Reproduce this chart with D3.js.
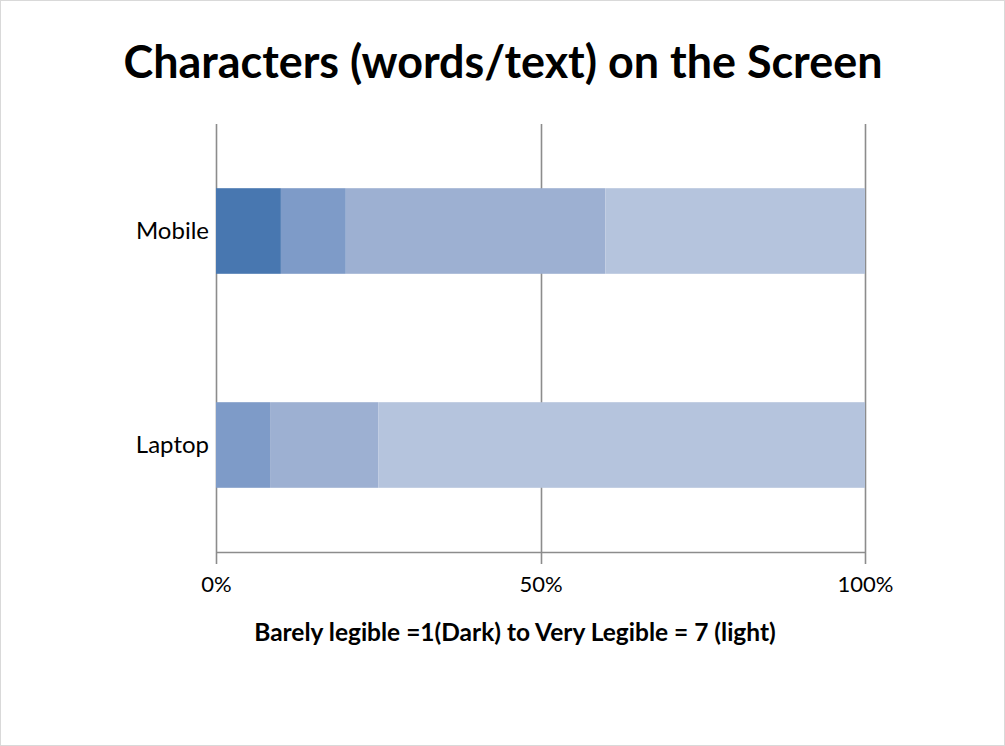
<!DOCTYPE html>
<html>
<head>
<meta charset="utf-8">
<script src="https://cdn.jsdelivr.net/npm/d3@7"></script>
<style>
  html, body { margin: 0; padding: 0; background: #fff; }
  svg { display: block; }
</style>
</head>
<body>
<script>
// Stacked 100% bar chart: share of ratings per legibility level
const categories = ["Mobile", "Laptop"];
const levels = ["4", "5", "6", "7"];
const mobileValues = [10, 10, 40, 40];
const laptopValues = [0, 8.33, 16.67, 75];
const xTicks = [0, 0.5, 1];
const levelColors = ["#4877b0", "#7e9bc8", "#9db0d2", "#b5c4dd"];

const W = 1005, H = 746;
const margin = { left: 216, right: 140, top: 124, bottom: 194 };

const rows = categories.map((c, i) => {
  const vals = [mobileValues, laptopValues][i];
  const row = { category: c };
  levels.forEach((l, j) => row[l] = vals[j]);
  return row;
});

const svg = d3.select("body").append("svg")
  .attr("width", W).attr("height", H);

// outer frame
svg.append("rect")
  .attr("x", 0.5).attr("y", 0.5)
  .attr("width", W - 1).attr("height", H - 1)
  .attr("fill", "#fff").attr("stroke", "#d9d9d9");

const x = d3.scaleLinear().domain([0, 1]).range([margin.left, W - margin.right]);
const y = d3.scaleBand().domain(categories)
  .range([margin.top, H - margin.bottom])
  .paddingInner(0.6).paddingOuter(0.3);

const stack = d3.stack().keys(levels).offset(d3.stackOffsetExpand);
const series = stack(rows);

// vertical gridlines (extend below the axis as tick marks)
svg.append("g").selectAll("line").data(xTicks).join("line")
  .attr("x1", d => Math.round(x(d)) + 0.5).attr("x2", d => Math.round(x(d)) + 0.5)
  .attr("y1", margin.top).attr("y2", H - margin.bottom + 12)
  .attr("stroke", "#8c8c8c").attr("stroke-width", 1.6);

// bars
svg.append("g").selectAll("g").data(series).join("g")
  .attr("fill", (d, i) => levelColors[i])
  .selectAll("rect").data(d => d).join("rect")
  .attr("x", d => x(d[0]))
  .attr("y", d => y(d.data.category))
  .attr("width", d => x(d[1]) - x(d[0]))
  .attr("height", y.bandwidth());

// x axis
const xAxis = d3.axisBottom(x).tickValues(xTicks).tickFormat(d3.format(".0%")).tickSize(0).tickPadding(24);
const gx = svg.append("g").attr("transform", `translate(0,${H - margin.bottom})`).call(xAxis);
gx.select(".domain").attr("stroke", "#8c8c8c").attr("stroke-width", 1.6);
gx.selectAll("text").attr("font-family", "Lato, sans-serif").attr("font-size", 22).attr("fill", "#000");

// y axis labels
const yAxis = d3.axisLeft(y).tickSize(0).tickPadding(7);
const gy = svg.append("g").attr("transform", `translate(${margin.left},0)`).call(yAxis);
gy.select(".domain").remove();
gy.selectAll("text").attr("font-family", "Lato, sans-serif").attr("font-size", 24).attr("fill", "#000");

// title
svg.append("text")
  .attr("x", 503).attr("y", 78)
  .attr("text-anchor", "middle")
  .attr("font-family", "Lato, sans-serif").attr("font-weight", "bold").attr("font-size", 44.9)
  .text("Characters (words/text) on the Screen");

// axis title
svg.append("text")
  .attr("x", 515).attr("y", 641)
  .attr("text-anchor", "middle")
  .attr("font-family", "Lato, sans-serif").attr("font-weight", "bold").attr("font-size", 24.5)
  .text("Barely legible =1(Dark) to Very Legible = 7 (light)");
</script>
</body>
</html>
